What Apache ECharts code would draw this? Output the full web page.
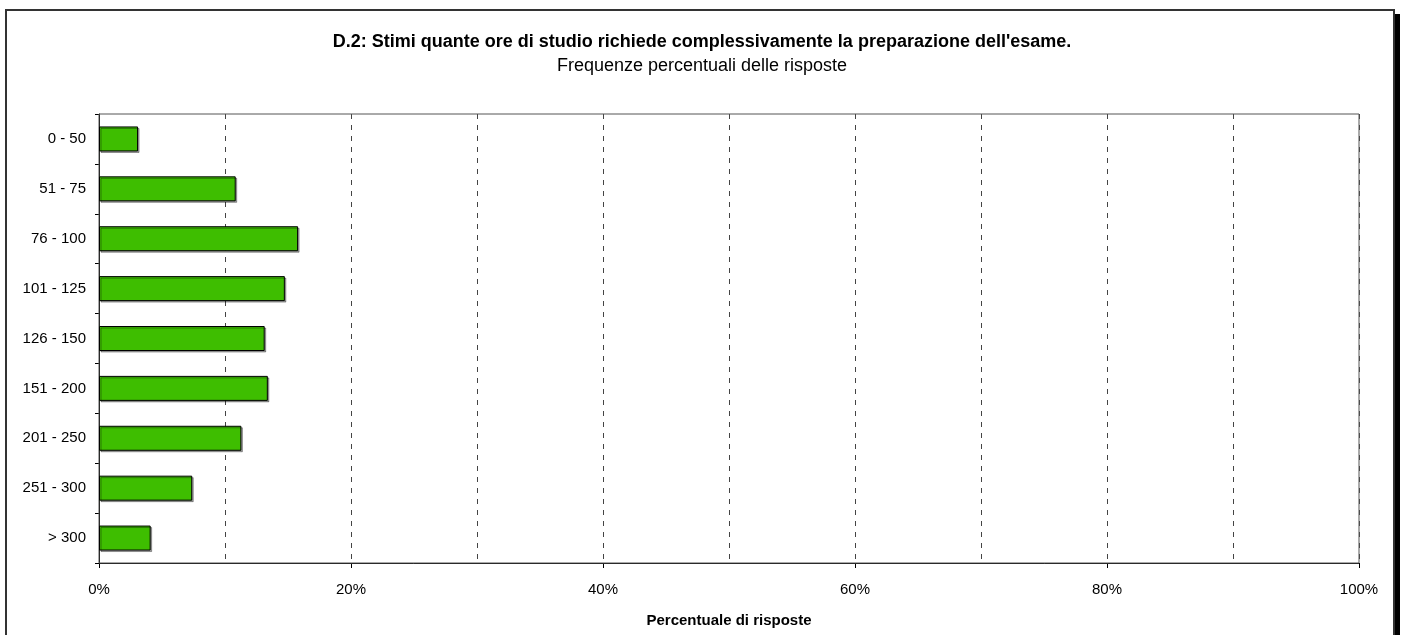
<!DOCTYPE html>
<html>
<head>
<meta charset="utf-8">
<script src="https://cdn.jsdelivr.net/npm/echarts@6/dist/echarts.min.js"></script>
<style>
html,body{margin:0;padding:0;background:#fff;}
#c{width:1402px;height:635px;}
</style>
</head>
<body>
<div id="c"></div>
<script>
const categories = ['0 - 50','51 - 75','76 - 100','101 - 125','126 - 150','151 - 200','201 - 250','251 - 300','> 300'];
const percentages = [3.1, 10.85, 15.8, 14.75, 13.15, 13.4, 11.3, 7.4, 4.1];
const titleText = "D.2: Stimi quante ore di studio richiede complessivamente la preparazione dell'esame.";
const subtitleText = 'Frequenze percentuali delle risposte';
const xAxisName = 'Percentuale di risposte';

const FONT = '"Liberation Sans", Arial, Helvetica, sans-serif';
const chart = echarts.init(document.getElementById('c'));
chart.setOption({
  animation: false,
  backgroundColor: '#fff',
  textStyle: {fontFamily: FONT},
  title: [
    {text: titleText, left: 697, top: 28, textAlign: 'center',
     textStyle: {fontFamily: FONT, fontSize: 18, fontWeight: 'bold', color: '#000'}},
    {text: subtitleText, left: 697, top: 52, textAlign: 'center',
     textStyle: {fontFamily: FONT, fontSize: 18, fontWeight: 'normal', color: '#000'}}
  ],
  graphic: [
    {type: 'rect', shape: {x: 1395, y: 14, width: 5, height: 640}, style: {fill: '#000'}, z: 0},
    {type: 'rect', shape: {x: 6, y: 10, width: 1388, height: 640}, style: {fill: '#fff', stroke: '#333', lineWidth: 2}, z: 0}
  ],
  grid: {left: 99, right: 43, top: 114, bottom: 72, show: true, borderColor: '#555', borderWidth: 1, backgroundColor: 'transparent', z: 3},
  xAxis: {
    type: 'value', min: 0, max: 100, interval: 20,
    name: xAxisName, nameLocation: 'middle', nameGap: 50,
    nameTextStyle: {fontFamily: FONT, fontSize: 15, fontWeight: 'bold', color: '#000'},
    axisLine: {show: true, lineStyle: {color: '#000', width: 1}},
    axisTick: {show: true, length: 5, lineStyle: {color: '#000'}},
    axisLabel: {formatter: '{value}%', fontFamily: FONT, fontSize: 15, color: '#000', margin: 19},
    splitLine: {show: true, lineStyle: {color: '#444', type: [5, 6], width: 1}},
    minorTick: {show: false, splitNumber: 2},
    minorSplitLine: {show: true, lineStyle: {color: '#444', type: [5, 6], width: 1}}
  },
  yAxis: {
    type: 'category', data: categories, inverse: true,
    axisLine: {show: true, lineStyle: {color: '#000', width: 1}},
    axisTick: {show: true, length: 4, lineStyle: {color: '#000'}},
    axisLabel: {fontFamily: FONT, fontSize: 15, color: '#000', margin: 13},
    splitLine: {show: false}
  },
  series: [{
    type: 'bar', data: percentages, barWidth: 25,
    itemStyle: {color: '#3ebe00', borderColor: '#000', borderWidth: 1,
      shadowColor: 'rgba(0,0,0,0.35)', shadowOffsetX: 1.5, shadowOffsetY: 1.5, shadowBlur: 0},
    z: 4
  }]
});
</script>
</body>
</html>
